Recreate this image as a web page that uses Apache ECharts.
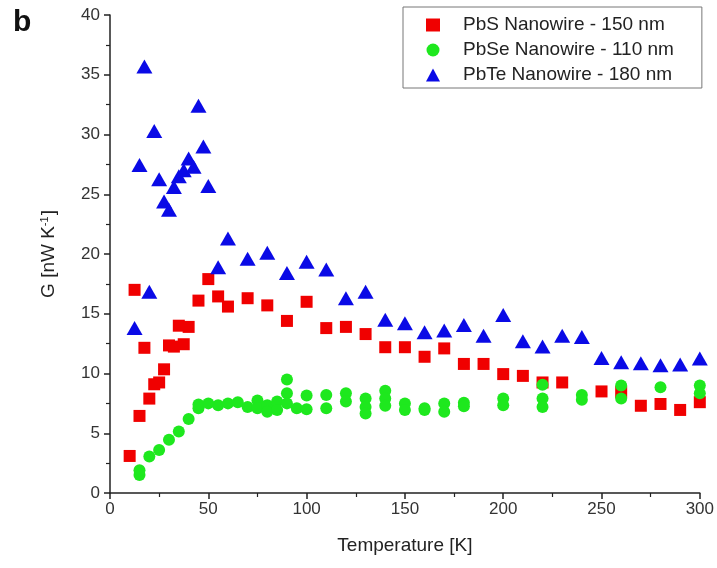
<!DOCTYPE html>
<html>
<head>
<meta charset="utf-8">
<script src="https://cdn.jsdelivr.net/npm/echarts@6/dist/echarts.min.js"></script>
<style>html,body{margin:0;padding:0;background:#fff}#c{width:717px;height:568px}</style>
</head>
<body>
<div id="c"></div>
<script>
var seriesNames = ['PbS Nanowire - 150 nm', 'PbSe Nanowire - 110 nm', 'PbTe Nanowire - 180 nm'];
var xTicks = [0, 50, 100, 150, 200, 250, 300];
var yTicks = [0, 5, 10, 15, 20, 25, 30, 35, 40];

var pbsData = [[10,3.1],[12.5,17.0],[15,6.45],[17.5,12.15],[20,7.9],[22.5,9.1],[25,9.25],[27.5,10.35],[30,12.35],[32.5,12.25],[35,14.0],[37.5,12.45],[40,13.9],[45,16.1],[50,17.9],[55,16.45],[60,15.6],[70,16.3],[80,15.7],[90,14.4],[100,16.0],[110,13.8],[120,13.9],[130,13.3],[140,12.2],[150,12.2],[160,11.4],[170,12.1],[180,10.8],[190,10.8],[200,9.95],[210,9.8],[220,9.25],[230,9.25],[250,8.5],[260,8.45],[270,7.3],[280,7.45],[290,6.95],[300,7.6]];

var pbseData = [[15,1.5],[15,1.9],[20,3.05],[25,3.6],[30,4.45],[35,5.15],[40,6.2],[45,7.1],[45,7.4],[50,7.5],[55,7.35],[60,7.5],[65,7.6],[70,7.2],[75,7.75],[75,7.1],[80,7.35],[80,6.8],[85,7.65],[85,6.95],[90,9.5],[90,8.35],[90,7.5],[95,7.1],[100,8.15],[100,7.0],[110,8.2],[110,7.1],[120,8.35],[120,7.65],[130,7.9],[130,7.2],[130,6.65],[140,8.55],[140,7.9],[140,7.3],[150,7.5],[150,6.95],[160,6.95],[160,7.1],[170,7.5],[170,6.8],[180,7.55],[180,7.25],[200,7.9],[200,7.35],[220,9.05],[220,7.9],[220,7.2],[240,8.2],[240,7.8],[260,9.0],[260,7.9],[280,8.85],[300,9.0],[300,8.35]];

var pbteData = [[12.5,13.8],[15,27.45],[17.5,35.7],[20,16.85],[22.5,30.3],[25,26.25],[27.5,24.4],[30,23.7],[32.5,25.6],[35,26.5],[37.5,27.0],[40,28.0],[42.5,27.3],[45,32.4],[47.5,29.0],[50,25.7],[55,18.9],[60,21.3],[70,19.6],[80,20.1],[90,18.4],[100,19.35],[110,18.7],[120,16.3],[130,16.85],[140,14.5],[150,14.2],[160,13.45],[170,13.6],[180,14.05],[190,13.15],[200,14.9],[210,12.7],[220,12.25],[230,13.15],[240,13.05],[250,11.3],[260,10.95],[270,10.85],[280,10.7],[290,10.75],[300,11.25]];

var font = 'Liberation Sans, Arial, sans-serif';
var chart = echarts.init(document.getElementById('c'));
chart.setOption({
  animation: false,
  backgroundColor: '#fff',
  title: {
    text: 'b', left: 8, top: 3,
    textStyle: { fontFamily: font, fontSize: 30, fontWeight: 'bold', color: '#111' }
  },
  legend: {
    orient: 'vertical',
    left: 403, top: 7,
    padding: [8, 28, 3, 23],
    itemGap: 5,
    itemWidth: 14, itemHeight: 13,
    borderColor: '#777', borderWidth: 1,
    textStyle: { fontFamily: font, fontSize: 19, color: '#222', lineHeight: 20, padding: [0, 0, 0, 18] },
    data: [
      { name: seriesNames[0], icon: 'rect', itemStyle: { color: '#f00000' } },
      { name: seriesNames[1], icon: 'circle', itemStyle: { color: '#1ee81e' } },
      { name: seriesNames[2], icon: 'triangle', itemStyle: { color: '#0a0ae6' } }
    ]
  },
  grid: { left: 110, right: 15, top: 15, bottom: 75 },
  xAxis: {
    type: 'value', min: xTicks[0], max: xTicks[xTicks.length - 1], interval: 50,
    name: 'Temperature [K]', nameLocation: 'middle', nameGap: 43,
    nameTextStyle: { fontFamily: font, fontSize: 19, color: '#222' },
    axisLine: { show: true, onZero: false, lineStyle: { color: '#222', width: 1.5 } },
    axisTick: { show: true, inside: false, length: 6, lineStyle: { color: '#222', width: 1.5 } },
    minorTick: { show: true, splitNumber: 2, length: 4, lineStyle: { color: '#222', width: 1.2 } },
    axisLabel: { fontFamily: font, fontSize: 17, color: '#333', margin: 8 },
    splitLine: { show: false }
  },
  yAxis: {
    type: 'value', min: yTicks[0], max: yTicks[yTicks.length - 1], interval: 5,
    name: '{m|G [nW K}{s|-1}{m|]}', nameLocation: 'middle', nameGap: 52,
    nameTextStyle: {
      fontFamily: font, fontSize: 19, color: '#222',
      rich: {
        m: { fontFamily: font, fontSize: 19, color: '#222' },
        s: { fontFamily: font, fontSize: 11, color: '#222', verticalAlign: 'top', padding: [0, 1, 8, 0] }
      }
    },
    axisLine: { show: true, onZero: false, lineStyle: { color: '#222', width: 1.5 } },
    axisTick: { show: true, inside: false, length: 6, lineStyle: { color: '#222', width: 1.5 } },
    minorTick: { show: true, splitNumber: 2, length: 4, lineStyle: { color: '#222', width: 1.2 } },
    axisLabel: { fontFamily: font, fontSize: 17, color: '#333', margin: 10 },
    splitLine: { show: false }
  },
  series: [
    { name: seriesNames[0], type: 'scatter', symbol: 'rect', symbolSize: 12,
      itemStyle: { color: '#f00000', opacity: 1 }, data: pbsData },
    { name: seriesNames[1], type: 'scatter', symbol: 'circle', symbolSize: 12,
      itemStyle: { color: '#1ee81e', opacity: 1 }, data: pbseData },
    { name: seriesNames[2], type: 'scatter', symbol: 'triangle', symbolSize: [16, 14],
      itemStyle: { color: '#0a0ae6', opacity: 1 }, data: pbteData }
  ]
});
</script>
</body>
</html>
